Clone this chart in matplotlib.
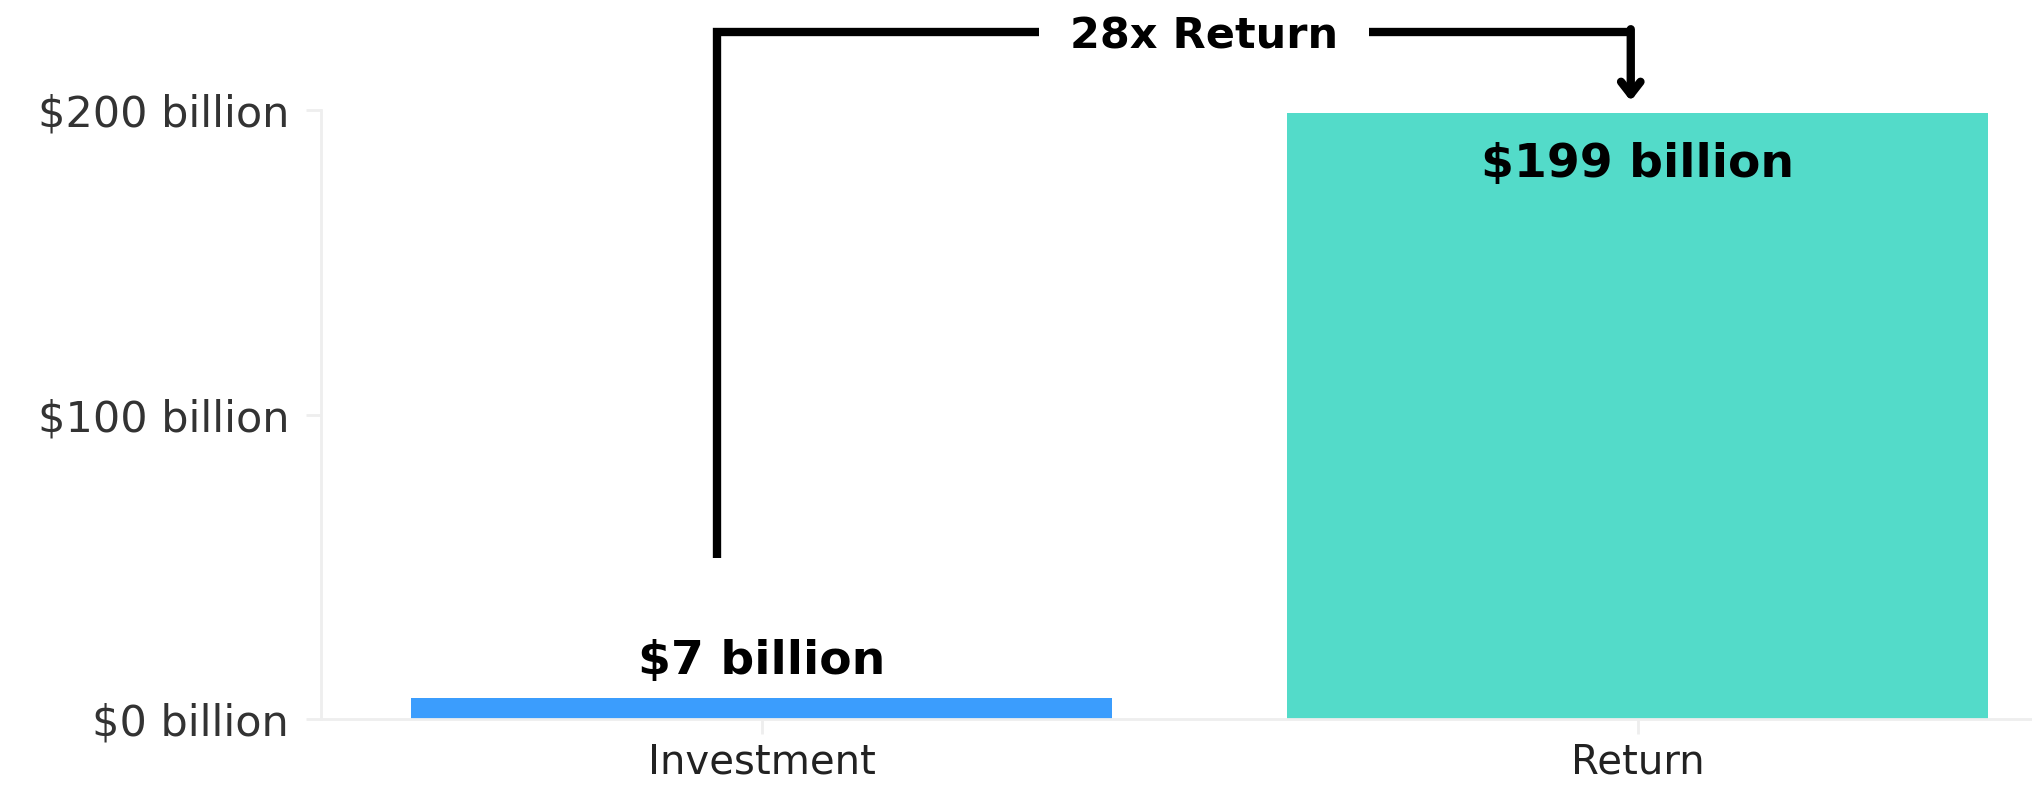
import matplotlib.pyplot as plt

# chart values
categories = ['Investment', 'Return']
values = [7, 199]
bar_labels = ['$7 billion', '$199 billion']
bar_colors = ['#3b9dfd', '#53dbc9']
yticks = [0, 100, 200]
ytick_labels = ['$0 billion', '$100 billion', '$200 billion']
multiple_text = '28x Return'

fig = plt.figure(figsize=(20.32, 7.87), dpi=100)
ax = fig.add_axes([0.158, 0.0864, 0.842, 0.7736])

xs = list(range(len(categories)))
ax.bar(xs, values, width=0.8, color=bar_colors, zorder=2)

ax.set_xlim(-0.503, 1.45)
ax.set_ylim(0, 200)

ax.set_xticks(xs)
ax.set_xticklabels(categories, fontsize=29, color='#222222')
ax.set_yticks(yticks)
ax.set_yticklabels(ytick_labels, fontsize=31, color='#333333')
ax.tick_params(axis='y', color='#eeeeee', width=2, length=11, pad=12)
ax.tick_params(axis='x', color='#eeeeee', width=2, length=11, pad=6)

for s in ['top', 'right']:
    ax.spines[s].set_visible(False)
ax.spines['left'].set_color('#eeeeee')
ax.spines['bottom'].set_color('#eeeeee')
ax.spines['left'].set_linewidth(2)
ax.spines['bottom'].set_linewidth(2)

# value labels
ax.text(xs[0], values[0] + 12, bar_labels[0], ha='center', va='center',
        fontsize=34, fontweight='heavy', color='black')
ax.text(xs[1], values[1] - 17, bar_labels[1], ha='center', va='center',
        fontsize=34, fontweight='heavy', color='black')

# bracket with arrow from investment to return
top_y = 225.6
left_x = -0.051
right_x = 0.992
ax.plot([left_x, left_x, right_x], [53, top_y, top_y], color='black', lw=6,
        solid_joinstyle='miter', solid_capstyle='butt', clip_on=False, zorder=3)
ax.annotate('', xy=(right_x, 203), xytext=(right_x, top_y + 1),
            arrowprops=dict(arrowstyle='->, head_width=0.7, head_length=0.9',
                            color='black', lw=6, shrinkA=0, shrinkB=0),
            annotation_clip=False, zorder=3)
ax.text(0.505, top_y - 1.5, multiple_text, ha='center', va='center', fontsize=31,
        fontweight='heavy', color='black', zorder=4,
        bbox=dict(facecolor='white', edgecolor='none', pad=22))

fig.savefig('out.png', dpi=100)
